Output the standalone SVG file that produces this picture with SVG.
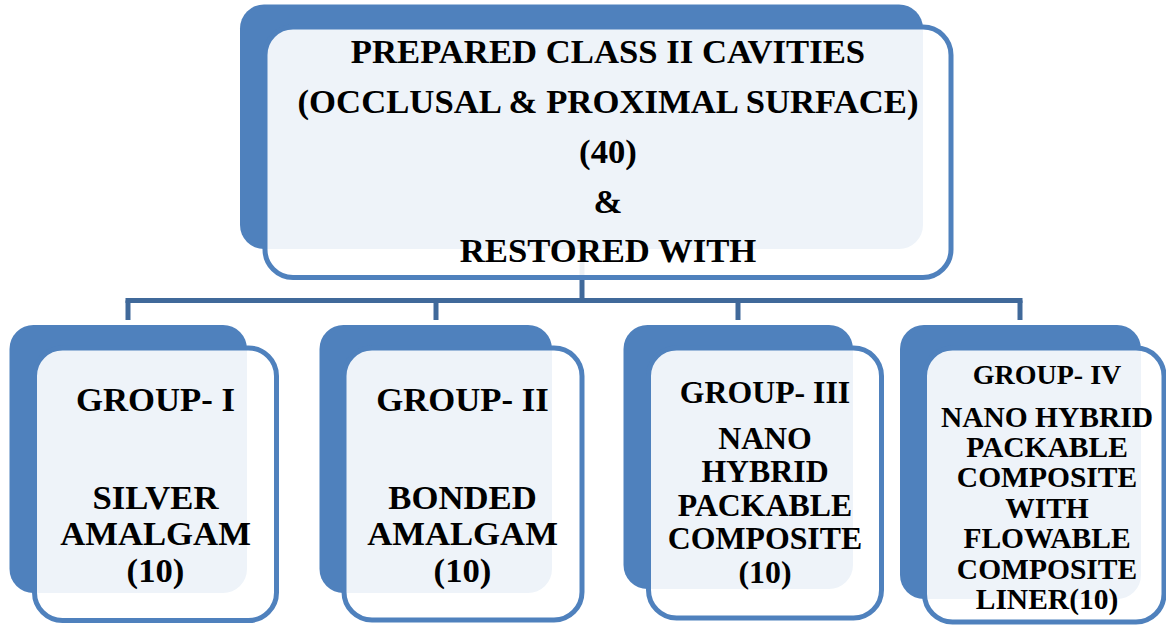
<svg xmlns="http://www.w3.org/2000/svg" width="1166" height="625" viewBox="0 0 1166 625">
<style>
.back{fill:#4f81bd;}
.front{fill:#ffffff;fill-opacity:0.9;stroke:#4f81bd;stroke-width:5;}
.conn{stroke:#40699a;stroke-width:5;fill:none;}
text{font-family:"Liberation Serif","Times New Roman",serif;font-weight:bold;fill:#000;text-anchor:middle;}
.t34{font-size:34.7px;}
.t31{font-size:31.8px;}
.t29{font-size:29.5px;}
.t28{font-size:28px;}
</style>
<rect width="1166" height="625" fill="#ffffff"/>
<g id="connectors">
<line class="conn" x1="582" y1="255" x2="582" y2="300.5"/>
<line class="conn" x1="125.5" y1="300.5" x2="1022.5" y2="300.5"/>
<line class="conn" x1="128" y1="300.5" x2="128" y2="320"/>
<line class="conn" x1="436" y1="300.5" x2="436" y2="320"/>
<line class="conn" x1="738" y1="300.5" x2="738" y2="320"/>
<line class="conn" x1="1020" y1="300.5" x2="1020" y2="320"/>
</g>
<g id="root">
<rect class="back" x="240" y="4.5" width="683" height="244.5" rx="24"/>
<rect class="front" x="265" y="27" width="686" height="250.5" rx="28"/>
<text class="t34" x="608" y="62.5">PREPARED CLASS II CAVITIES</text>
<text class="t34" x="608" y="113">(OCCLUSAL &amp; PROXIMAL SURFACE)</text>
<text class="t34" x="608" y="163">(40)</text>
<text class="t34" x="608" y="212.5">&amp;</text>
<text class="t34" x="608" y="262">RESTORED WITH</text>
</g>
<g id="group1">
<rect class="back" x="9.5" y="325" width="237.5" height="268" rx="24"/>
<rect class="front" x="34.5" y="348" width="242" height="272.5" rx="28"/>
<text class="t34" x="155.5" y="410.5">GROUP- I</text>
<text class="t34" x="155.5" y="509">SILVER</text>
<text class="t34" x="155.5" y="545">AMALGAM</text>
<text class="t34" x="155.5" y="581.5">(10)</text>
</g>
<g id="group2">
<rect class="back" x="319.5" y="325" width="232.5" height="268" rx="24"/>
<rect class="front" x="344" y="348" width="238" height="272" rx="28"/>
<text class="t34" x="462.5" y="410.5">GROUP- II</text>
<text class="t34" x="462.5" y="509">BONDED</text>
<text class="t34" x="462.5" y="545">AMALGAM</text>
<text class="t34" x="462.5" y="581.5">(10)</text>
</g>
<g id="group3">
<rect class="back" x="623.5" y="325" width="229.5" height="264" rx="24"/>
<rect class="front" x="648.5" y="348" width="233" height="270" rx="28"/>
<text class="t31" x="765" y="403">GROUP- III</text>
<text class="t31" x="765" y="449">NANO</text>
<text class="t31" x="765" y="482">HYBRID</text>
<text class="t31" x="765" y="515.5">PACKABLE</text>
<text class="t31" x="765" y="549">COMPOSITE</text>
<text class="t31" x="765" y="582.5">(10)</text>
</g>
<g id="group4">
<rect class="back" x="900" y="325" width="241" height="274" rx="24"/>
<rect class="front" x="924.5" y="348" width="239.5" height="274" rx="28"/>
<text class="t28" x="1047" y="384">GROUP- IV</text>
<text class="t29" x="1047" y="426.7">NANO HYBRID</text>
<text class="t29" x="1047" y="457.3">PACKABLE</text>
<text class="t29" x="1047" y="487.3">COMPOSITE</text>
<text class="t29" x="1047" y="518.3">WITH</text>
<text class="t29" x="1047" y="548.3">FLOWABLE</text>
<text class="t29" x="1047" y="579.3">COMPOSITE</text>
<text class="t29" x="1047" y="609">LINER(10)</text>
</g>
</svg>
